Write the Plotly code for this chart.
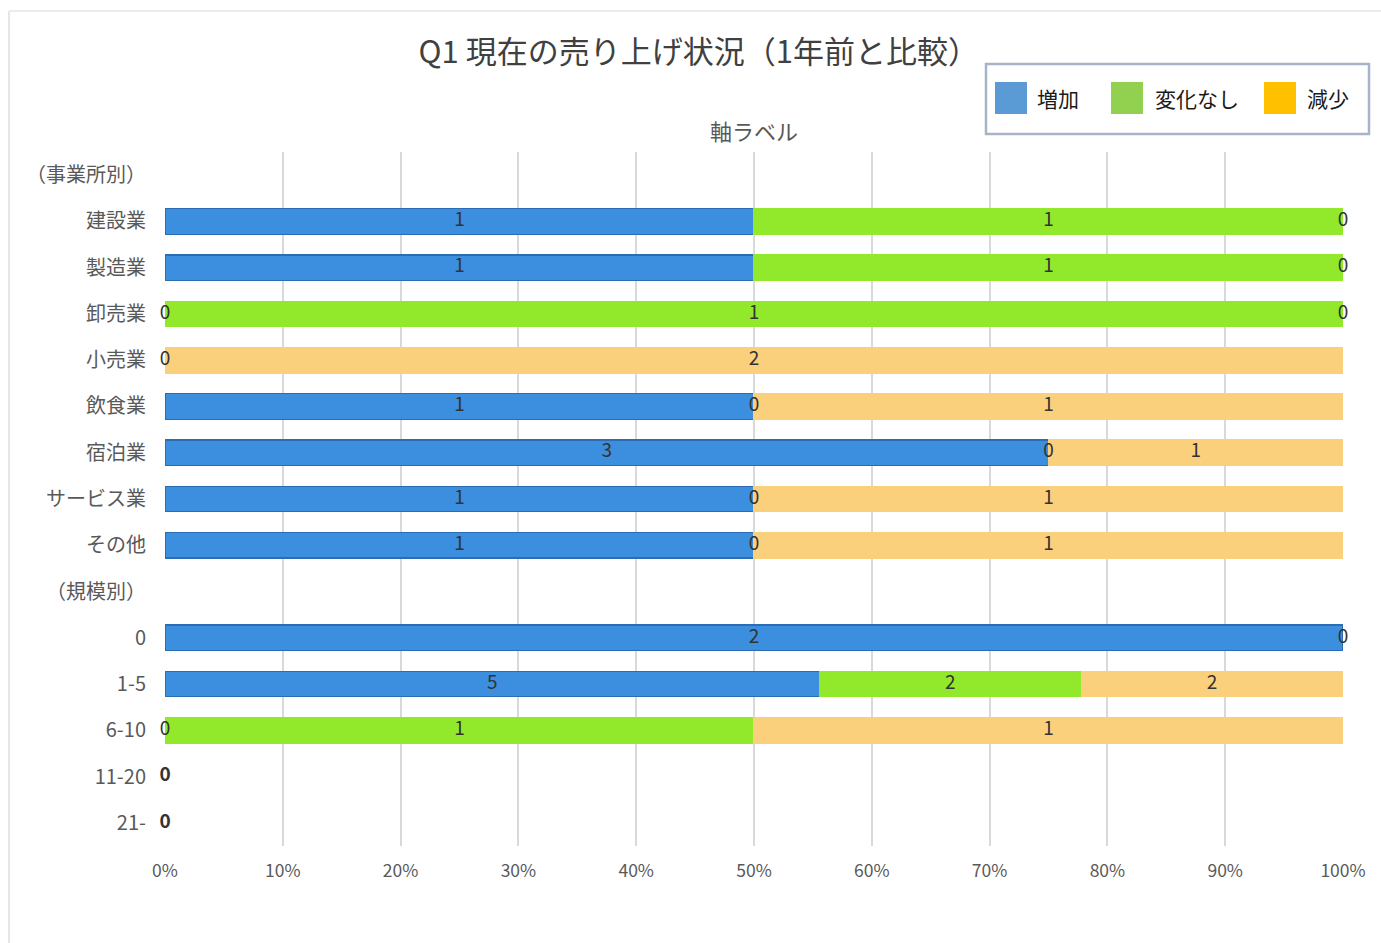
import plotly.graph_objects as go

# ---------------- data ----------------
categories = ["（事業所別）", "建設業", "製造業", "卸売業", "小売業", "飲食業", "宿泊業",
              "サービス業", "その他", "（規模別）", "0", "1-5", "6-10", "11-20", "21-"]
series_names = ["増加", "変化なし", "減少"]
increase = [None, 1, 1, 0, 0, 1, 3, 1, 1, None, 2, 5, 0, 0, 0]
nochange = [None, 1, 1, 1, None, 0, 0, 0, 0, None, None, 2, 1, None, None]
decrease = [None, 0, 0, 0, 2, 1, 1, 1, 1, None, 0, 2, 1, None, None]
x_ticks = [0, 10, 20, 30, 40, 50, 60, 70, 80, 90, 100]
x_ticklabels = [f"{t}%" for t in x_ticks]

bar_colors = ["#3c8ede", "#92e82a", "#fbd07c"]
bar_lines = ["#2b6cb3", "#92e82a", "#fbd07c"]
legend_colors = ["#5b9bd5", "#92d050", "#ffc000"]

series = [increase, nochange, decrease]

# ---------------- geometry helpers (figure px -> paper) ----------------
W, H = 1381, 943
L, R, T, B = 165, 38, 152, 97
PW, PH = W - L - R, H - T - B


def px(x):
    return (x - L) / PW


def py(y):
    return (H - B - y) / PH


fig = go.Figure()

# compute percentages per row
totals = [sum(v for v in (a, b, c) if v is not None) for a, b, c in zip(*series)]
pcts = []
for s in series:
    pcts.append([(v / t * 100 if (v is not None and t) else (0 if v is not None else None))
                 for v, t in zip(s, totals)])

for name, p, col, lc in zip(series_names, pcts, bar_colors, bar_lines):
    fig.add_trace(go.Bar(
        y=categories, x=[v if v else None for v in p], orientation="h", name=name,
        marker=dict(color=col, line=dict(color=lc, width=1.2)),
        width=0.55, showlegend=False, hoverinfo="skip"))

# labels
lx, ly, lt = [], [], []
for i, cat in enumerate(categories):
    cum = 0
    for s, p in zip(series, pcts):
        v = s[i]
        if v is None:
            continue
        lx.append(cum + p[i] / 2)
        ly.append(cat)
        lt.append(f"<b>{v}</b>" if totals[i] == 0 else str(v))
        cum += p[i]

fig.add_trace(go.Scatter(
    x=lx, y=ly, text=lt, mode="text", showlegend=False, hoverinfo="skip",
    cliponaxis=False,
    textfont=dict(size=19, color="#333333", family="Noto Sans CJK JP"),
    textposition="middle center"))

shapes = []
# chart outer border (left + top)
shapes.append(dict(type="line", xref="paper", yref="paper", x0=px(9), x1=px(9),
                   y0=py(11), y1=py(943), line=dict(color="#e6e6e6", width=2)))
shapes.append(dict(type="line", xref="paper", yref="paper", x0=px(9), x1=px(1381),
                   y0=py(11), y1=py(11), line=dict(color="#ececec", width=2)))
# legend box
shapes.append(dict(type="rect", xref="paper", yref="paper", x0=px(986), x1=px(1369),
                   y0=py(64), y1=py(134), line=dict(color="#a7b3c6", width=2.5),
                   fillcolor="white"))
annotations = []
sw_x = [995, 1111, 1264]
tx_x = [1035, 1153, 1305]
for name, col, sx, tx in zip(series_names, legend_colors, sw_x, tx_x):
    shapes.append(dict(type="rect", xref="paper", yref="paper", x0=px(sx), x1=px(sx + 32),
                       y0=py(82), y1=py(114), line=dict(width=0), fillcolor=col))
    annotations.append(dict(text=name, xref="paper", yref="paper", x=px(tx), y=py(98),
                            xanchor="left", yanchor="middle", showarrow=False,
                            font=dict(size=21, color="#1a1a1a", family="Noto Sans CJK JP")))

# axis title at top
annotations.append(dict(text="軸ラベル", xref="x", yref="paper", x=50, y=py(130),
                        xanchor="center", yanchor="middle", showarrow=False,
                        font=dict(size=22, color="#595959", family="Noto Sans CJK JP")))

fig.update_layout(
    width=W, height=H,
    margin=dict(l=L, r=R, t=T, b=B, autoexpand=False),
    paper_bgcolor="white", plot_bgcolor="white",
    barmode="stack", bargap=0.45,
    font=dict(family="Noto Sans CJK JP", color="#595959"),
    title=dict(text="Q1 現在の売り上げ状況（1年前と比較）", x=0.506, xanchor="center",
               xref="container", y=1 - 52 / H, yanchor="middle", yref="container",
               font=dict(size=31, color="#404040", family="Noto Sans CJK JP")),
    xaxis=dict(range=[0, 100], tickvals=x_ticks, ticktext=x_ticklabels,
               showgrid=True, gridcolor="#d9d9d9", gridwidth=1.5, automargin=False,
               zeroline=False, showline=False, ticks="", ticklabelstandoff=12,
               tickfont=dict(size=17.5, color="#595959")),
    yaxis=dict(type="category", categoryorder="array", categoryarray=categories,
               range=[len(categories) - 0.5, -0.5], autorange=False,
               showgrid=False, zeroline=False, showline=False,
               ticks="", ticklabelstandoff=18, automargin=False,
               tickfont=dict(size=20, color="#595959")),
    shapes=shapes, annotations=annotations,
)

fig.write_html("out.html", config={"displayModeBar": False},
               post_script="document.body.style.margin='0';")
